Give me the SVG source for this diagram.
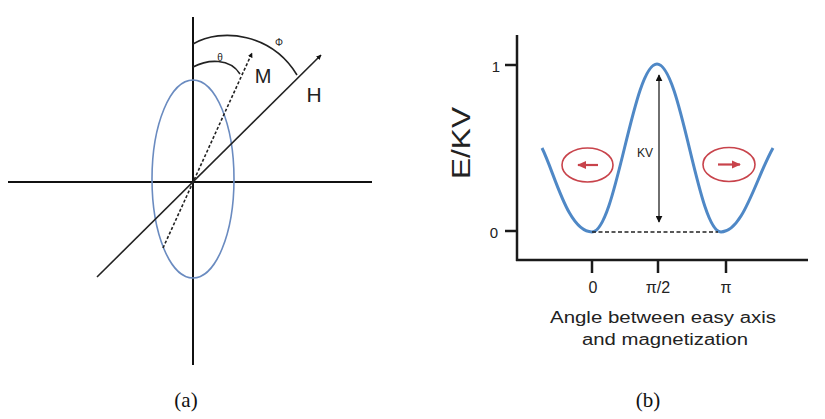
<svg xmlns="http://www.w3.org/2000/svg" width="825" height="419" viewBox="0 0 825 419">
<style>
.ax{stroke:#111;stroke-width:2;fill:none}
.axb{stroke:#1a1a1a;stroke-width:2.5;fill:none}
.thin{stroke:#222;stroke-width:1.6;fill:none}
.lbl{font-family:"Liberation Sans",Arial,sans-serif;fill:#222}
.cap{font-family:"Liberation Serif","Times New Roman",serif;fill:#111;font-size:21px;text-anchor:middle}
.red{stroke:#c8434b;stroke-width:1.6;fill:none}
</style>
<defs>
<marker id="ah" viewBox="0 0 10 10" refX="9" refY="5" markerWidth="5" markerHeight="5" orient="auto-start-reverse" markerUnits="userSpaceOnUse"><path d="M0,0 L10,5 L0,10 z" fill="#111"/></marker>
<marker id="ak" viewBox="0 0 10 10" refX="9" refY="5" markerWidth="7" markerHeight="7" orient="auto-start-reverse" markerUnits="userSpaceOnUse"><path d="M0,0 L10,5 L0,10 z" fill="#111"/></marker>
<marker id="ar" viewBox="0 0 10 10" refX="9" refY="5" markerWidth="9" markerHeight="9" orient="auto" markerUnits="userSpaceOnUse"><path d="M0,0.5 L10,5 L0,9.5 z" fill="#c8434b"/></marker>
</defs>

<g id="panel-a">
  <g id="axes-a">
    <line class="ax" x1="193" y1="17" x2="193" y2="365"/>
    <line class="ax" x1="8" y1="182" x2="372" y2="182"/>
  </g>
  <g id="ellipse-a">
    <ellipse cx="193" cy="179" rx="41" ry="99" fill="none" stroke="#6a8bc0" stroke-width="1.6"/>
  </g>
  <g id="connectors-a">
    <line class="thin" x1="97" y1="277" x2="321" y2="55" marker-end="url(#ah)"/>
    <line class="thin" x1="163" y1="248" x2="252" y2="53" stroke-dasharray="3,2" marker-end="url(#ah)"/>
    <path class="thin" stroke-width="1.3" d="M193,44 C222,27 272,34 297,75"/>
    <path class="thin" stroke-width="1.3" d="M193,67 C208,59 230,58 240,74"/>
  </g>
  <g id="labels-a">
    <text class="lbl" x="263" y="83" font-size="20" text-anchor="middle">M</text>
    <text class="lbl" x="314" y="102" font-size="21" text-anchor="middle">H</text>
    <text class="lbl" x="279" y="46" font-size="10" text-anchor="middle" fill="#444">Φ</text>
    <text class="lbl" x="220" y="61" font-size="10" text-anchor="middle" fill="#444">θ</text>
  </g>
</g>

<g id="panel-b">
  <g id="axes-b">
    <line class="axb" x1="517" y1="35" x2="517" y2="261"/>
    <line class="axb" x1="516" y1="260" x2="808" y2="260"/>
    <line class="axb" x1="505" y1="65" x2="517" y2="65"/>
    <line class="axb" x1="505" y1="231" x2="517" y2="231"/>
    <line class="axb" x1="592" y1="261" x2="592" y2="273"/>
    <line class="axb" x1="658" y1="261" x2="658" y2="273"/>
    <line class="axb" x1="726" y1="261" x2="726" y2="273"/>
  </g>
  <g id="curve">
    <path d="M542,148 C555,174 568,232 592,232 C616,232 633,64 657,64 C681,64 698,232 721,232 C743,232 756,178 773,148" fill="none" stroke="#4f88c6" stroke-width="3"/>
  </g>
  <g id="barrier">
    <line x1="592" y1="232" x2="718" y2="232" stroke="#222" stroke-width="1.5" stroke-dasharray="4,2.5"/>
    <line x1="659" y1="75" x2="659" y2="222" stroke="#333" stroke-width="1.4" marker-start="url(#ak)" marker-end="url(#ak)"/>
    <text class="lbl" x="645" y="157" font-size="12" text-anchor="middle" fill="#555">KV</text>
  </g>
  <g id="state-left">
    <ellipse class="red" cx="587.5" cy="165" rx="25.5" ry="17"/>
    <line x1="598" y1="165" x2="578" y2="165" stroke="#c8434b" stroke-width="2.2" marker-end="url(#ar)"/>
  </g>
  <g id="state-right">
    <ellipse class="red" cx="729" cy="164.5" rx="26" ry="17"/>
    <line x1="718" y1="164.5" x2="740" y2="164.5" stroke="#c8434b" stroke-width="2.2" marker-end="url(#ar)"/>
  </g>
  <g id="labels-b">
    <text class="lbl" x="0" y="0" font-size="26" text-anchor="middle" textLength="72" lengthAdjust="spacingAndGlyphs" transform="translate(470,143) rotate(-90)">E/KV</text>
    <text class="lbl" x="496" y="72" font-size="15" text-anchor="middle" fill="#333">1</text>
    <text class="lbl" x="494" y="238" font-size="15" text-anchor="middle" fill="#333">0</text>
    <text class="lbl" x="593" y="293" font-size="16" text-anchor="middle" fill="#333">0</text>
    <text class="lbl" x="658" y="293" font-size="16" text-anchor="middle" fill="#333">π/2</text>
    <text class="lbl" x="726" y="293" font-size="16" text-anchor="middle" fill="#333">π</text>
    <text class="lbl" x="663" y="323" font-size="16" text-anchor="middle" fill="#333" textLength="226" lengthAdjust="spacingAndGlyphs">Angle between easy axis</text>
    <text class="lbl" x="665" y="345" font-size="16" text-anchor="middle" fill="#333" textLength="166" lengthAdjust="spacingAndGlyphs">and magnetization</text>
  </g>
</g>

<g id="captions">
  <text class="cap" x="186" y="407">(a)</text>
  <text class="cap" x="648" y="407">(b)</text>
</g>
</svg>
